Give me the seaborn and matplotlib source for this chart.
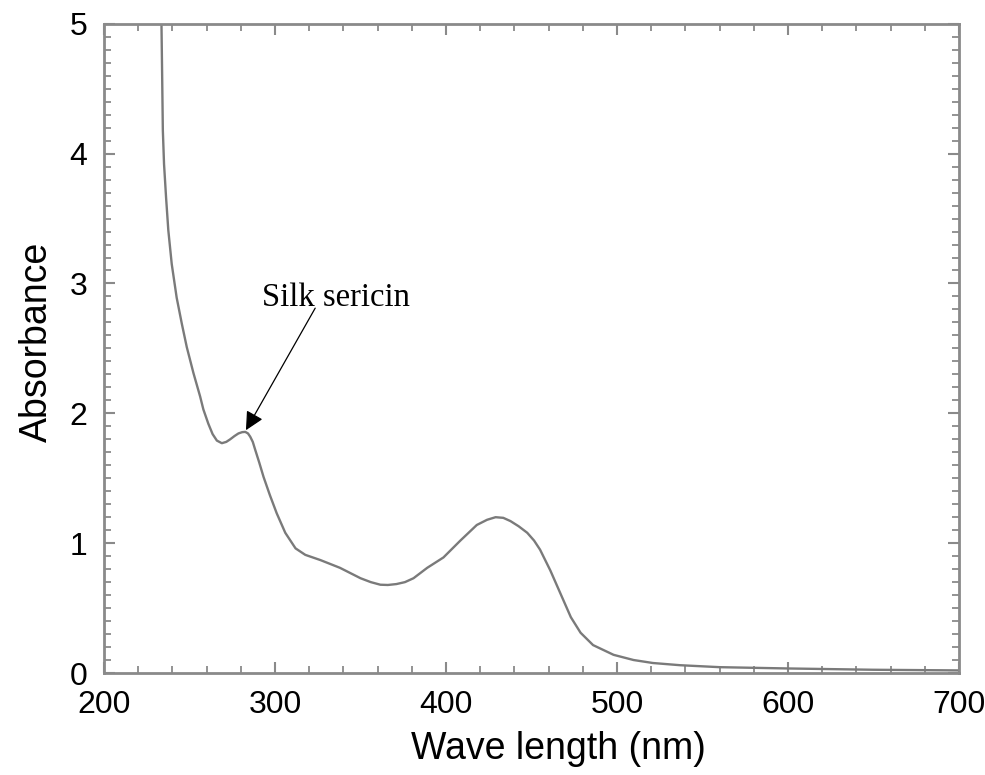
import matplotlib
matplotlib.use("Agg")
import matplotlib.pyplot as plt
from matplotlib.ticker import MultipleLocator
import seaborn as sns
import pandas as pd

# UV-Vis absorption spectrum of silk sericin
wavelength_nm = [233.5, 234.0, 234.4, 235.1, 236.3, 237.6, 239.6, 242.5, 245.5, 248.4,
                 252.3, 256.2, 258.1, 261.0, 263.5, 266.0, 268.9, 271.5, 273.8, 276.3,
                 278.6, 280.8, 282.6, 284.2, 285.5, 287.0, 288.4, 290.8, 293.3, 297.0,
                 301.0, 306.0, 312.0, 317.7, 326.5, 338.0, 350.0, 356.0, 361.6, 366.0,
                 371.0, 376.0, 381.0, 389.0, 398.5, 408.4, 418.0, 424.0, 429.0, 433.5,
                 437.7, 442.5, 447.5, 451.5, 455.0, 461.0, 467.0, 473.0, 478.7, 486.0,
                 498.0, 509.7, 521.0, 537.0, 560.0, 600.0, 650.0, 700.0]
absorbance = [5.10, 4.60, 4.18, 3.92, 3.66, 3.41, 3.15, 2.89, 2.69, 2.51,
              2.31, 2.13, 2.03, 1.92, 1.84, 1.79, 1.77, 1.78, 1.80, 1.825,
              1.845, 1.855, 1.857, 1.845, 1.82, 1.78, 1.72, 1.62, 1.51, 1.37,
              1.23, 1.08, 0.96, 0.91, 0.87, 0.81, 0.73, 0.70, 0.68, 0.678,
              0.685, 0.70, 0.73, 0.81, 0.89, 1.02, 1.14, 1.18, 1.20, 1.195,
              1.17, 1.13, 1.08, 1.02, 0.95, 0.79, 0.61, 0.43, 0.31, 0.215,
              0.14, 0.10, 0.077, 0.06, 0.045, 0.035, 0.025, 0.02]

x_ticks = [200, 300, 400, 500, 600, 700]
y_ticks = [0, 1, 2, 3, 4, 5]
annotation_text = "Silk sericin"
annotation_text_pos = (292.5, 2.83)
arrow_start = (323.5, 2.81)
arrow_tip = (283.0, 1.87)

spectrum = pd.DataFrame({"Wave length (nm)": wavelength_nm, "Absorbance": absorbance})

sns.set_style("ticks")
plt.rcParams["font.family"] = ["Liberation Sans", "DejaVu Sans"]

fig = plt.figure(figsize=(9.85, 7.75), dpi=100)
ax = fig.add_axes([0.1056, 0.1316, 0.868, 0.8377])

sns.lineplot(data=spectrum, x="Wave length (nm)", y="Absorbance", ax=ax,
             color="#7a7a7a", linewidth=1.7, sort=False)

ax.set_xlim(200, 700)
ax.set_ylim(0, 5)
ax.set_xticks(x_ticks)
ax.set_yticks(y_ticks)
ax.xaxis.set_minor_locator(MultipleLocator(20))
ax.yaxis.set_minor_locator(MultipleLocator(0.1))

spine_color = "#8a8a8a"
for side in ["left", "right", "top", "bottom"]:
    ax.spines[side].set_visible(True)
    ax.spines[side].set_color(spine_color)
    ax.spines[side].set_linewidth(2.0)

ax.tick_params(which="both", direction="in", top=True, right=True,
               color=spine_color, labelcolor="black")
ax.tick_params(which="major", length=8, width=1.5, labelsize=23, pad=12)
ax.tick_params(which="minor", length=5, width=1.3)

ax.set_xlabel("Wave length (nm)", fontsize=27, color="black")
ax.set_ylabel("Absorbance", fontsize=27, color="black")
ax.xaxis.set_label_coords(0.532, -0.09)
ax.yaxis.set_label_coords(-0.058, 0.51)

# label and pointer for the sericin shoulder
ax.text(*annotation_text_pos, annotation_text, fontsize=23.5,
        family=["Liberation Serif", "DejaVu Serif"], ha="left", va="baseline",
        color="black")
ax.annotate("", xy=arrow_tip, xytext=arrow_start,
            arrowprops=dict(arrowstyle="-|>", color="black", lw=0.9,
                            mutation_scale=28, shrinkA=0, shrinkB=0))

fig.savefig("out.png", dpi=100)
